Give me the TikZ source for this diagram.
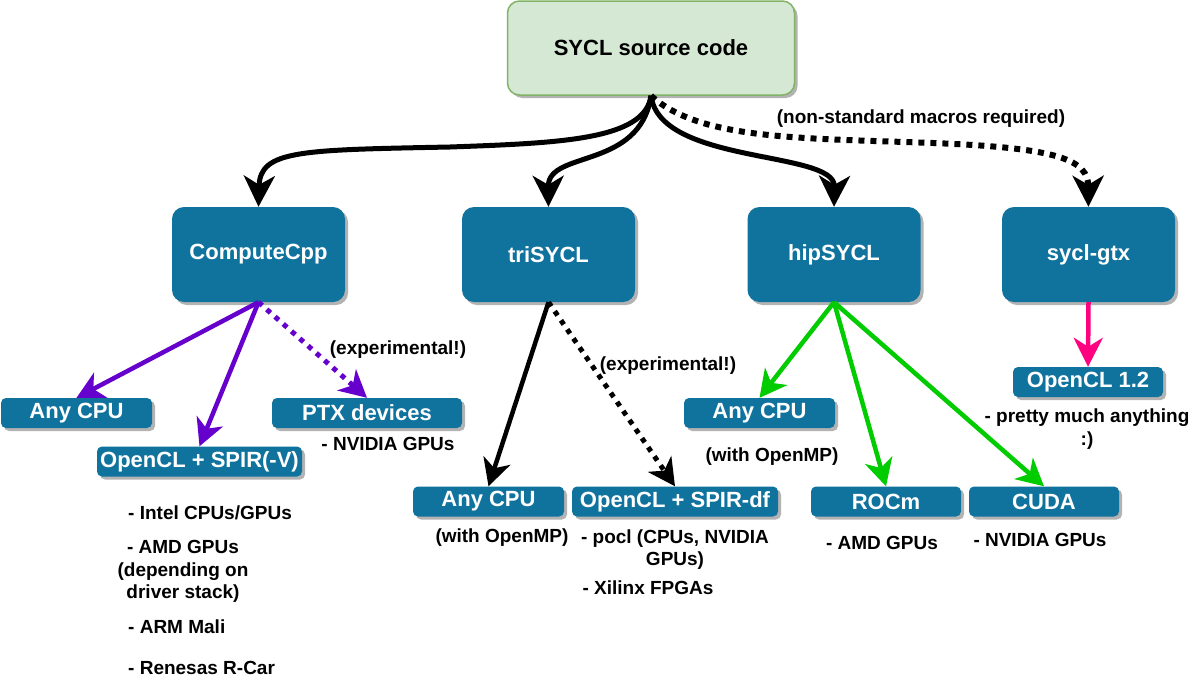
\documentclass[tikz,border=0pt]{standalone}
\usepackage{fontspec}
\setmainfont{Liberation Sans}
\usetikzlibrary{arrows.meta,shadows}
\definecolor{boxblue}{HTML}{10739E}
\definecolor{srcfill}{HTML}{D5E8D4}
\definecolor{srcline}{HTML}{82B366}
\definecolor{purp}{HTML}{6600CC}
\definecolor{grn}{HTML}{00CC00}
\definecolor{pnk}{HTML}{FF0080}
\definecolor{shad}{HTML}{B3B3B3}
\tikzset{
  shd/.style={drop shadow={shadow xshift=3pt,shadow yshift=-3pt,fill=shad,opacity=1}},
  bigbox/.style={shd, fill=boxblue, rounded corners=12pt, minimum width=173pt, minimum height=95pt,
    text=white, font=\fontsize{22}{26}\selectfont\bfseries, inner sep=0pt},
  smallbox/.style={shd, fill=boxblue, rounded corners=5pt, minimum height=30pt,
    text=white, font=\fontsize{22}{26}\selectfont\bfseries, inner sep=0pt},
  srcbox/.style={shd, fill=srcfill, draw=srcline, line width=1.5pt, rounded corners=12pt,
    minimum width=287pt, minimum height=94pt, font=\fontsize{22}{26}\selectfont\bfseries, inner sep=0pt},
  lbl/.style={font=\fontsize{19}{22.5}\selectfont\bfseries, inner sep=0pt, align=center},
  mainarrow/.style={line width=5pt, -{Stealth[length=31pt,width=31pt,inset=9pt]}},
  maindots/.style={mainarrow, line width=6pt, dash pattern=on 6pt off 6pt},
  childarrow/.style={line width=4.5pt, -{Stealth[length=27pt,width=28pt,inset=8pt]}},
  childdots/.style={childarrow, line width=5pt, dash pattern=on 5pt off 6pt},
}
\begin{document}
\begin{tikzpicture}[x=1pt,y=-1pt]
\useasboundingbox (0,0) rectangle (1200,686);
\fill[white] (0,0) rectangle (1200,686);

% source
\node[srcbox] (src) at (651,48) {SYCL source code};

% implementations
\node[bigbox] (cc)  at (258.5,254.5) {ComputeCpp};
\node[bigbox] (tri) at (548.5,254.5) {triSYCL};
\node[bigbox] (hip) at (834,254.5) {hipSYCL};
\node[bigbox] (gtx) at (1088.5,254.5) {sycl-gtx};

% targets
\node[smallbox, minimum width=151pt] (any1) at (76.5,413) {Any CPU};
\node[smallbox, minimum width=205pt] (spir) at (199.5,461.5) {OpenCL + SPIR(-V)};
\node[smallbox, minimum width=190pt] (ptx) at (367,413) {PTX devices};
\node[smallbox, minimum width=151pt] (any2) at (488.5,501.5) {Any CPU};
\node[smallbox, minimum width=206pt] (spirdf) at (675,501.5) {OpenCL + SPIR-df};
\node[smallbox, minimum width=151pt] (any3) at (759.5,413) {Any CPU};
\node[smallbox, minimum width=150pt] (rocm) at (886,501.5) {ROCm};
\node[smallbox, minimum width=150pt] (cuda) at (1044,501.5) {CUDA};
\node[smallbox, minimum width=150pt] (ocl) at (1088,382) {OpenCL 1.2};

% labels
\node[lbl] (nonstd) at (921,119) {(non-standard macros required)};
\node[lbl] (exp1) at (398,350) {(experimental!)};
\node[lbl] (exp2) at (668,366) {(experimental!)};
\node[lbl] (nv1) at (388,444) {- NVIDIA GPUs};
\node[lbl, anchor=west] (intel) at (128,513) {- Intel CPUs/GPUs};
\node[lbl] (amd1) at (183,571.5) {- AMD GPUs\\(depending on\\driver stack)};
\node[lbl, anchor=west] (arm) at (128,627) {- ARM Mali};
\node[lbl, anchor=west] (ren) at (128,668) {- Renesas R-Car};
\node[lbl] (omp1) at (502,538) {(with OpenMP)};
\node[lbl] (pocl) at (675,549.5) {- pocl (CPUs, NVIDIA\\GPUs)};
\node[lbl] (xil) at (648,588) {- Xilinx FPGAs};
\node[lbl] (omp2) at (772,457) {(with OpenMP)};
\node[lbl] (amd2) at (882,543) {- AMD GPUs};
\node[lbl] (nv2) at (1040,540) {- NVIDIA GPUs};
\node[lbl] (pretty) at (1087,429) {- pretty much anything\\:)};

% source -> implementations
\draw[mainarrow] (src.south) .. controls (645,140) and (560,143) .. (450,147)
   .. controls (300,150) and (260,150) .. (cc.north);
\draw[mainarrow] (src.south) .. controls (640,170) and (548,150) .. (tri.north);
\draw[mainarrow] (src.south) .. controls (660,165) and (835,150) .. (hip.north);
\draw[maindots] (src.south) .. controls (700,140) and (800,138) .. (933,143)
   .. controls (1060,148) and (1088,160) .. (gtx.north);

% ComputeCpp
\draw[childarrow, purp] (cc.south) -- (any1.north);
\draw[childarrow, purp] (cc.south) -- (spir.north);
\draw[childdots, purp] (cc.south) -- (ptx.north);

% triSYCL
\draw[childarrow] (tri.south) -- (any2.north);
\draw[childdots] (tri.south) -- (spirdf.north);

% hipSYCL
\draw[childarrow, grn] (hip.south) -- (any3.north);
\draw[childarrow, grn] (hip.south) -- (rocm.north);
\draw[childarrow, grn] (hip.south) -- (cuda.north);

% sycl-gtx
\draw[childarrow, pnk, -{Stealth[length=29pt,width=29pt,inset=9pt]}] (gtx.south) -- (ocl.north);
\end{tikzpicture}
\end{document}
